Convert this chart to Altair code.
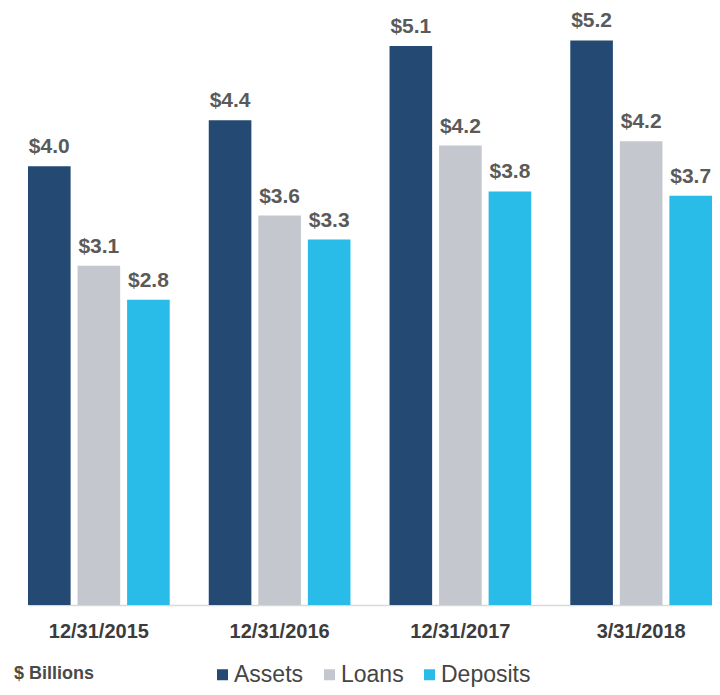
import altair as alt
import pandas as pd

dates = ["12/31/2015", "12/31/2016", "12/31/2017", "3/31/2018"]
series = ["Assets", "Loans", "Deposits"]
assets = [4.01, 4.43, 5.11, 5.16]
loans = [3.10, 3.56, 4.20, 4.24]
deposits = [2.79, 3.34, 3.78, 3.74]
colors = ["#244a73", "#c4c7cd", "#29bce9"]

rows = []
for i, d in enumerate(dates):
    for s, vals in zip(series, [assets, loans, deposits]):
        rows.append({"date": d, "series": s, "value": vals[i]})
df = pd.DataFrame(rows)

x = alt.X("date:N", sort=dates,
          scale=alt.Scale(range=[20, 704], paddingInner=0.216, paddingOuter=0),
          axis=alt.Axis(title=None, labelAngle=0, ticks=False, domainColor="#d9d9d9",
                        domainWidth=1.5, labelFont="Liberation Sans", labelFontWeight="bold",
                        labelFontSize=20, labelColor="#3c3c3c", labelPadding=16))
xo = alt.XOffset("series:N", sort=series, scale=alt.Scale(paddingInner=0.14, paddingOuter=0))
y = alt.Y("value:Q", scale=alt.Scale(domain=[0, 5.457], nice=False, zero=True), axis=None)

base = alt.Chart(df)

bars = base.mark_bar().encode(
    x=x, xOffset=xo, y=y,
    color=alt.Color("series:N", sort=series,
                    scale=alt.Scale(domain=series, range=colors),
                    legend=alt.Legend(title=None, orient="none", legendX=203, legendY=655,
                                      padding=0, direction="horizontal", columns=3,
                                      symbolType="square", symbolSize=121, symbolStrokeWidth=0,
                                      labelFontSize=23, labelFont="Liberation Sans",
                                      labelColor="#454545", labelOffset=0, columnPadding=14)),
)

labels = base.mark_text(baseline="bottom", dy=-9, font="Liberation Sans", fontWeight="bold",
                        fontSize=21, color="#5a5a5a").encode(
    x=x, xOffset=xo, y=y,
    text=alt.Text("value:Q", format="$.1f"),
)

note = alt.Chart(pd.DataFrame({"t": ["$ Billions"]})).mark_text(
    align="left", baseline="middle", font="Liberation Sans", fontWeight="bold",
    fontSize=18, color="#4a4a4a").encode(
    x=alt.value(6), y=alt.value(666), text="t:N")

chart = alt.layer(bars, labels, note).properties(
    width=704, height=597,
    autosize=alt.AutoSizeParams(type="none"),
    padding={"left": 0, "top": 0, "right": 0, "bottom": 82},
).configure(background="white").configure_view(stroke=None, strokeWidth=0)

chart.save("out.html", embed_options={"renderer": "svg", "actions": False})
